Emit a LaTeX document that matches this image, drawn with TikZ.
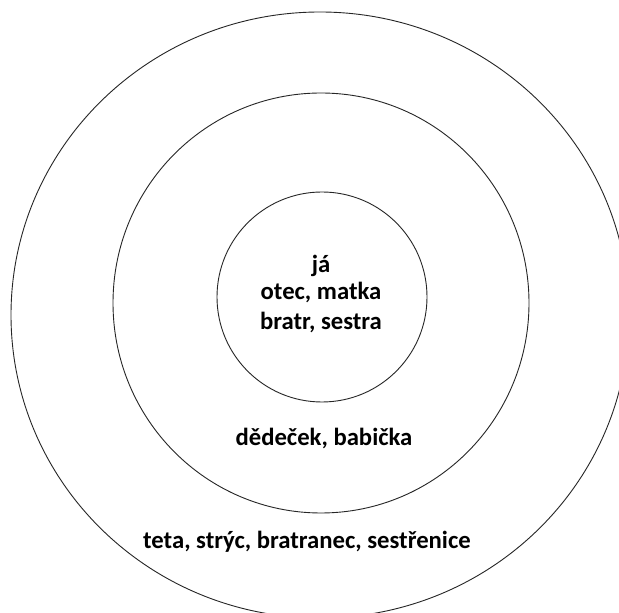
\documentclass[tikz,border=0pt]{standalone}
\usepackage{fontspec}
\setmainfont{Carlito}
\begin{document}
\begin{tikzpicture}[x=1pt,y=1pt,
  ring/.style={draw=black!85, line width=0.9pt},
  lbl/.style={font=\bfseries\fontsize{24.7}{29}\selectfont, anchor=base, inner sep=0pt}]
\useasboundingbox (0,0) rectangle (619,613);
\clip (0,0) rectangle (619,613);
\fill[white] (0,0) rectangle (619,613);
\draw[ring] (320,298) ellipse [x radius=309, y radius=303];
\draw[ring] (321,310) ellipse [x radius=208, y radius=210];
\draw[ring] (322,316) circle [radius=105];
\node[lbl] (ja) at (321,340) {já};
\node[lbl] (rodice) at (321,313) {otec, matka};
\node[lbl] (sourozenci) at (321,283) {bratr, sestra};
\node[lbl] (prarodice) at (324,167) {dědeček, babička};
\node[lbl] (pribuzni) at (307,64) {teta, strýc, bratranec, sestřenice};
\end{tikzpicture}
\end{document}
